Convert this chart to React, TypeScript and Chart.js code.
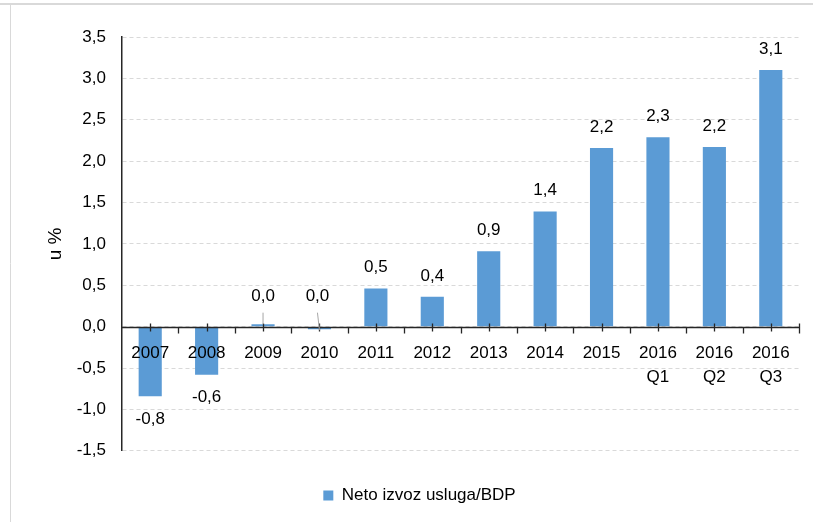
import React, { useEffect, useRef } from "react";
import { Chart, registerables } from "chart.js";

Chart.register(...registerables);

const categories: (string | string[])[] = [
  "2007", "2008", "2009", "2010", "2011", "2012", "2013", "2014", "2015",
  ["2016", "Q1"], ["2016", "Q2"], ["2016", "Q3"],
];
const netoIzvozUsluga: number[] = [-0.84, -0.58, 0.03, -0.03, 0.46, 0.36, 0.91, 1.39, 2.16, 2.29, 2.17, 3.1];
const seriesLabel = "Neto izvoz usluga/BDP";
const yAxisTitle = "u %";
const yMin = -1.5;
const yMax = 3.5;
const yStep = 0.5;

const FONT = "'Liberation Sans', Arial, sans-serif";

const fmt = (v: number) => {
  const s = Math.abs(v) < 0.05 ? "0.0" : v.toFixed(1);
  return s.replace(".", ",");
};

const framePlugin = {
  id: "frame",
  beforeDraw(chart: any) {
    const ctx = chart.ctx;
    ctx.save();
    ctx.strokeStyle = "#d9d9d9";
    ctx.lineWidth = 2;
    ctx.beginPath();
    ctx.moveTo(0, 4);
    ctx.lineTo(chart.width, 4);
    ctx.stroke();
    ctx.lineWidth = 1;
    ctx.beginPath();
    ctx.moveTo(10.5, 5);
    ctx.lineTo(10.5, chart.height);
    ctx.stroke();
    ctx.restore();
  },
  afterLayout(chart: any) {
    const lg = chart.legend;
    if (lg) {
      lg.left += 20;
      lg.right += 20;
    }
  },
};

const axisTicksPlugin = {
  id: "axisTicks",
  afterDatasetsDraw(chart: any) {
    const ctx = chart.ctx;
    const x = chart.scales.x;
    const y = chart.scales.y;
    const y0 = Math.round(y.getPixelForValue(0)) + 0.5;
    const n = chart.data.labels.length;
    ctx.save();
    ctx.strokeStyle = "#262626";
    ctx.lineWidth = 1.3;
    ctx.beginPath();
    ctx.moveTo(chart.chartArea.left, y0);
    ctx.lineTo(chart.chartArea.right, y0);
    for (let i = 0; i < n; i++) {
      const c = x.getPixelForValue(i);
      const half = (x.getPixelForValue(1) - x.getPixelForValue(0)) / 2;
      ctx.moveTo(Math.round(c) + 0.5, y0 - 4);
      ctx.lineTo(Math.round(c) + 0.5, y0 + 4);
      const b = c - half;
      if (i > 0) {
        ctx.moveTo(Math.round(b) + 0.5, y0);
        ctx.lineTo(Math.round(b) + 0.5, y0 + 6);
      }
      if (i === n - 1) {
        const e = c + half;
        ctx.moveTo(Math.round(e) + 0.5, y0 - 4);
        ctx.lineTo(Math.round(e) + 0.5, y0 + 6);
      }
    }
    ctx.stroke();

    // data labels
    const meta = chart.getDatasetMeta(0);
    const data = chart.data.datasets[0].data as number[];
    ctx.font = `17px ${FONT}`;
    ctx.fillStyle = "#000";
    ctx.textAlign = "center";
    ctx.textBaseline = "middle";
    meta.data.forEach((bar: any, i: number) => {
      const v = data[i];
      const text = fmt(v);
      if (Math.abs(v) < 0.1) {
        const ly = y.getPixelForValue(0) - 30;
        const lx = bar.x - (v < 0 ? 2 : 0);
        ctx.fillText(text, lx, ly);
        ctx.save();
        ctx.strokeStyle = "#a6a6a6";
        ctx.lineWidth = 1;
        ctx.beginPath();
        ctx.moveTo(lx, ly + 16);
        ctx.lineTo(bar.x, bar.y + (v < 0 ? 1 : 0));
        ctx.stroke();
        ctx.restore();
      } else if (v >= 0) {
        ctx.fillText(text, bar.x, bar.y - 21);
      } else {
        ctx.fillText(text, bar.x, bar.y + 23);
      }
    });
    ctx.restore();
  },
};

export default function App() {
  const ref = useRef<HTMLCanvasElement>(null);
  useEffect(() => {
    document.body.style.margin = "0";
    const chart = new Chart(ref.current as HTMLCanvasElement, {
      type: "bar",
      data: {
        labels: categories,
        datasets: [
          {
            label: seriesLabel,
            data: netoIzvozUsluga,
            backgroundColor: "#5B9BD5",
            borderWidth: 0,
            categoryPercentage: 1,
            barPercentage: 0.41,
          },
        ],
      },
      options: {
        responsive: false,
        animation: false,
        layout: { padding: { top: 37, right: 14, bottom: 8, left: 0 } },
        plugins: {
          tooltip: { enabled: false },
          legend: {
            position: "bottom",
            title: {
              display: true,
              text: " ",
              font: { size: 1 },
              padding: { top: 0, bottom: 17 },
            },
            labels: {
              font: { family: FONT, size: 17 },
              color: "#000",
              boxWidth: 10,
              boxHeight: 10,
              padding: 18,
            },
          },
        },
        scales: {
          x: {
            position: { y: 0 } as any,
            grid: { display: false, drawTicks: false },
            border: { display: false },
            ticks: {
              z: 1,
              font: { family: FONT, size: 17, lineHeight: 1.45 },
              color: "#000",
              padding: 14,
              maxRotation: 0,
              autoSkip: false,
            },
          },
          y: {
            min: yMin,
            max: yMax,
            afterFit: (axis: any) => {
              axis.width = 122;
            },
            ticks: {
              stepSize: yStep,
              font: { family: FONT, size: 17 },
              color: "#000",
              padding: 16,
              callback: (v: any) => fmt(Number(v)),
            },
            grid: {
              color: "#d9d9d9",
              drawTicks: false,
              lineWidth: 1,
            },
            border: { display: true, color: "#262626", width: 1.5, dash: [4, 3] } as any,
            title: {
              display: true,
              text: yAxisTitle,
              font: { family: FONT, size: 19 },
              color: "#000",
              padding: { top: 44, bottom: 0 },
            },
          },
        },
      },
      plugins: [framePlugin, axisTicksPlugin],
    });
    return () => chart.destroy();
  }, []);
  return (
    <div style={{ width: 813, height: 522 }}>
      <canvas ref={ref} width={813} height={522} />
    </div>
  );
}
